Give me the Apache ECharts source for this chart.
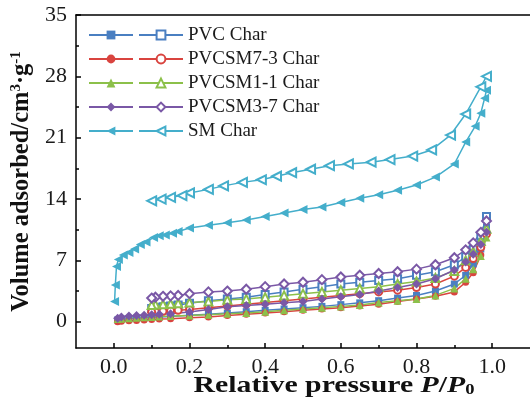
<!DOCTYPE html>
<html>
<head>
<meta charset="utf-8">
<script src="https://cdn.jsdelivr.net/npm/echarts@6/dist/echarts.min.js"></script>
<style>
  html, body { margin: 0; padding: 0; background: #fff; }
  #chart { width: 530px; height: 407px; }
</style>
</head>
<body>
<div id="chart"></div>
<script>
// relative pressure P/P0, adsorption and desorption branches
const pAds = [0.01, 0.02, 0.04, 0.06, 0.08, 0.1, 0.12, 0.15, 0.2, 0.25, 0.3, 0.35, 0.4, 0.45, 0.5, 0.55, 0.6, 0.65, 0.7, 0.75, 0.8, 0.85, 0.9, 0.93, 0.95, 0.97, 0.985]
const pDes = [0.985, 0.97, 0.95, 0.93, 0.9, 0.85, 0.8, 0.75, 0.7, 0.65, 0.6, 0.55, 0.5, 0.45, 0.4, 0.35, 0.3, 0.25, 0.2, 0.17, 0.15, 0.13, 0.11, 0.1]

const pvcAds = [0.2, 0.3, 0.35, 0.4, 0.45, 0.5, 0.55, 0.6, 0.75, 0.85, 1.0, 1.15, 1.3, 1.45, 1.6, 1.75, 1.95, 2.15, 2.4, 2.7, 3.0, 3.5, 4.3, 5.3, 6.6, 8.3, 10.8]
const pvcDes = [12.0, 9.8, 8.3, 7.4, 6.5, 5.7, 5.3, 4.9, 4.7, 4.5, 4.3, 4.0, 3.7, 3.4, 3.1, 2.8, 2.6, 2.4, 2.1, 1.9, 1.8, 1.7, 1.6, 1.5]
const s73Ads = [0.0, 0.05, 0.1, 0.15, 0.2, 0.25, 0.3, 0.35, 0.45, 0.55, 0.7, 0.85, 1.0, 1.15, 1.3, 1.45, 1.6, 1.8, 2.0, 2.3, 2.6, 2.9, 3.4, 4.5, 5.6, 7.6, 10.0]
const s73Des = [10.0, 8.5, 7.2, 6.2, 5.2, 4.3, 3.9, 3.6, 3.4, 3.2, 3.0, 2.8, 2.6, 2.4, 2.2, 2.0, 1.8, 1.6, 1.4, 1.3, 1.25, 1.2, 1.15, 1.1]
const s11Ads = [0.3, 0.35, 0.4, 0.45, 0.5, 0.55, 0.6, 0.65, 0.7, 0.8, 0.9, 1.0, 1.15, 1.3, 1.45, 1.6, 1.75, 1.9, 2.2, 2.4, 2.6, 3.0, 3.8, 4.9, 6.0, 7.5, 9.6]
const s11Des = [10.6, 9.2, 8.0, 7.0, 5.8, 5.0, 4.6, 4.3, 4.0, 3.8, 3.6, 3.4, 3.2, 3.0, 2.8, 2.6, 2.5, 2.3, 2.2, 2.1, 2.05, 2.0, 1.95, 1.9]
const s37Ads = [0.4, 0.55, 0.65, 0.7, 0.75, 0.8, 0.85, 0.9, 1.1, 1.4, 1.7, 1.85, 2.0, 2.15, 2.3, 2.6, 2.85, 3.1, 3.5, 3.9, 4.3, 4.9, 5.9, 6.8, 7.7, 8.8, 10.2]
const s37Des = [11.5, 10.2, 9.0, 8.2, 7.3, 6.5, 6.0, 5.7, 5.5, 5.3, 5.1, 4.8, 4.5, 4.3, 4.0, 3.7, 3.5, 3.4, 3.2, 3.0, 2.95, 2.9, 2.8, 2.7]

const pSmAds = [0.002, 0.004, 0.007, 0.012, 0.025, 0.04, 0.055, 0.07, 0.085, 0.105, 0.12, 0.136, 0.155, 0.17, 0.2, 0.25, 0.3, 0.35, 0.4, 0.45, 0.5, 0.55, 0.6, 0.65, 0.7, 0.75, 0.8, 0.85, 0.9, 0.93, 0.955, 0.97, 0.98, 0.985]
const smAds = [2.3, 4.2, 6.3, 7.1, 7.6, 7.9, 8.3, 8.8, 9.1, 9.6, 9.8, 9.9, 10.1, 10.3, 10.7, 11.0, 11.3, 11.6, 12.0, 12.4, 12.8, 13.1, 13.6, 14.1, 14.5, 15.0, 15.6, 16.5, 18.0, 20.5, 22.3, 23.8, 25.5, 26.4]
const pSmDes = [0.985, 0.97, 0.93, 0.89, 0.84, 0.79, 0.73, 0.68, 0.62, 0.57, 0.52, 0.47, 0.43, 0.39, 0.34, 0.29, 0.25, 0.2, 0.18, 0.15, 0.125, 0.1]
const smDes = [28.0, 26.8, 23.7, 21.3, 19.6, 18.9, 18.5, 18.2, 18.0, 17.8, 17.4, 17.0, 16.6, 16.2, 15.9, 15.5, 15.1, 14.7, 14.4, 14.2, 14.0, 13.8]

const names = ['PVC Char', 'PVCSM7-3 Char', 'PVCSM1-1 Char', 'PVCSM3-7 Char', 'SM Char']
const colors = ['#4a7fc1', '#d9443f', '#8cc04a', '#7a58a6', '#44aecb']
const xTicks = [0, 0.2, 0.4, 0.6, 0.8, 1.0]
const xMinor = [0.1, 0.3, 0.5, 0.7, 0.9]
const yTicks = [0, 7, 14, 21, 28, 35]
const yMinor = [3.5, 10.5, 17.5, 24.5, 31.5]

const font = 'Liberation Serif'
const zip = (xs, ys) => xs.map((x, i) => [x, ys[i]])

const groups = [
  { ads: zip(pAds, pvcAds), des: zip(pDes, pvcDes), sym: 'rect', size: 7 },
  { ads: zip(pAds, s73Ads), des: zip(pDes, s73Des), sym: 'circle', size: 7 },
  { ads: zip(pAds, s11Ads), des: zip(pDes, s11Des), sym: 'triangle', size: 8 },
  { ads: zip(pAds, s37Ads), des: zip(pDes, s37Des), sym: 'diamond', size: 9 },
  { ads: zip(pSmAds, smAds), des: zip(pSmDes, smDes), sym: 'triangle', size: 9, rot: 90 }
]

const series = []
groups.forEach((g, i) => {
  const base = {
    type: 'line', xAxisIndex: 0, yAxisIndex: 0,
    symbolSize: g.size, symbolRotate: g.rot || 0,
    lineStyle: { width: 1.5, color: colors[i] },
    itemStyle: { color: colors[i] },
    emphasis: { disabled: true }, animation: false
  }
  series.push(Object.assign({}, base, { name: names[i] + ' ads', data: g.ads, symbol: g.sym }))
  series.push(Object.assign({}, base, {
    name: names[i], data: g.des,
    symbol: 'empty' + g.sym[0].toUpperCase() + g.sym.slice(1),
    itemStyle: { color: colors[i], borderWidth: 1.5 }
  }))
})

const legendBase = {
  orient: 'vertical', top: 23, padding: 0, itemGap: 0,
  itemWidth: 44, itemHeight: 11, selectedMode: false,
  textStyle: { fontFamily: font, fontSize: 19, lineHeight: 24, color: '#1a1a1a' }
}

const tickLine = { color: '#000', width: 1.5 }
const hiddenLine = { show: true, onZero: false, lineStyle: { color: 'rgba(0,0,0,0)', width: 0 } }

const chart = echarts.init(document.getElementById('chart'))
chart.setOption({
  animation: false,
  grid: { left: 76, top: 15, width: 456, height: 333 },
  legend: [
    Object.assign({}, legendBase, { left: 88, data: names.map(n => n + ' ads'), textStyle: Object.assign({}, legendBase.textStyle, { color: 'rgba(0,0,0,0)' }) }),
    Object.assign({}, legendBase, { left: 138, data: names })
  ],
  // x title is drawn a little wider than the font, as in the source figure
  graphic: [{
    type: 'text', x: 334, y: 386, scaleX: 1.24, silent: true,
    style: {
      text: '{a|Relative pressure }{i|P}{a|/}{i|P}{s|0}',
      align: 'center', verticalAlign: 'middle',
      rich: {
        a: { fontFamily: font, fontSize: 24, fontWeight: 'bold', fill: '#111' },
        i: { fontFamily: font, fontSize: 24, fontWeight: 'bold', fontStyle: 'italic', fill: '#111' },
        s: { fontFamily: font, fontSize: 15, fontWeight: 'bold', fill: '#111', verticalAlign: 'bottom', padding: [8, 0, 0, 0] }
      }
    }
  }],
  xAxis: [
    {
      type: 'value', min: -0.1, max: 1.1,
      splitLine: { show: false },
      axisLine: { onZero: false, lineStyle: tickLine },
      axisTick: { inside: true, length: 5, customValues: xTicks, lineStyle: tickLine },
      axisLabel: { customValues: xTicks, margin: 8, formatter: v => v.toFixed(1), fontFamily: font, fontSize: 22, color: '#1a1a1a' }
    },
    {
      type: 'value', min: -0.1, max: 1.1, position: 'bottom',
      splitLine: { show: false }, axisLine: hiddenLine,
      axisTick: { show: true, inside: true, length: 3, customValues: xMinor, lineStyle: tickLine },
      axisLabel: { show: false }
    },
    {
      type: 'value', min: -0.1, max: 1.1, position: 'top',
      splitLine: { show: false }, axisLine: { show: true, onZero: false, lineStyle: tickLine },
      axisTick: { show: false }, axisLabel: { show: false }
    }
  ],
  yAxis: [
    {
      type: 'value', min: -3, max: 35,
      name: '{a|Volume adsorbed/cm}{p|3}{a|·g}{p|-1}',
      nameLocation: 'middle', nameGap: 40, nameRotate: 90,
      nameTextStyle: {
        rich: {
          a: { fontFamily: font, fontSize: 24.5, fontWeight: 'bold', color: '#111' },
          p: { fontFamily: font, fontSize: 15, fontWeight: 'bold', color: '#111', verticalAlign: 'top', padding: [0, 0, 10, 0] }
        }
      },
      splitLine: { show: false },
      axisLine: { onZero: false, lineStyle: tickLine },
      axisTick: { inside: true, length: 5, customValues: yTicks, lineStyle: tickLine },
      axisLabel: { customValues: yTicks, margin: 9, fontFamily: font, fontSize: 22, color: '#1a1a1a' }
    },
    {
      type: 'value', min: -3, max: 35, position: 'left',
      splitLine: { show: false }, axisLine: hiddenLine,
      axisTick: { show: true, inside: true, length: 3, customValues: yMinor, lineStyle: tickLine },
      axisLabel: { show: false }
    }
  ],
  series: series
})
</script>
</body>
</html>
